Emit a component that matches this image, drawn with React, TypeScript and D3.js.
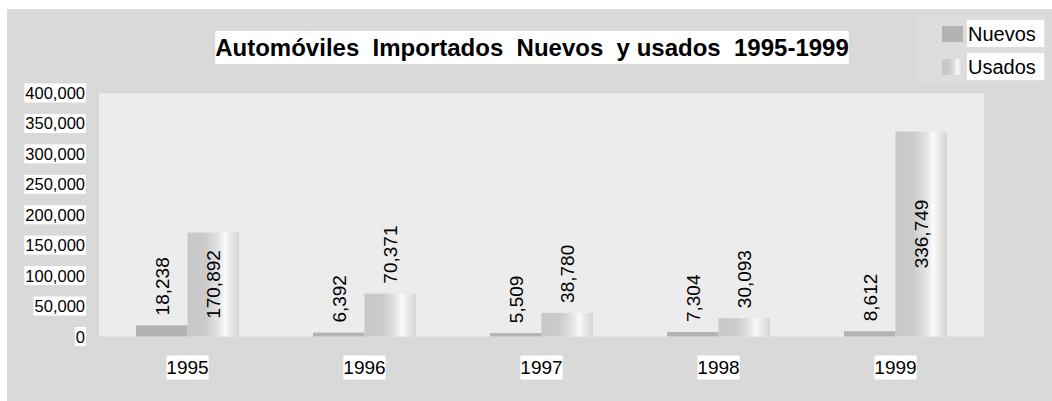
import React, { useRef, useEffect } from "react";
import * as d3 from "d3";

// chart data
const years = ["1995", "1996", "1997", "1998", "1999"];
const nuevos = [18238, 6392, 5509, 7304, 8612];
const usados = [170892, 70371, 38780, 30093, 336749];
const seriesNames = ["Nuevos", "Usados"];
const yTicks = [0, 50000, 100000, 150000, 200000, 250000, 300000, 350000, 400000];
const title = "Automóviles  Importados  Nuevos  y usados  1995-1999";

const W = 1052;
const H = 401;
const plot = { left: 99, right: 984, top: 93, bottom: 336.5 };
const font = "'Liberation Sans', Arial, sans-serif";
const fmt = d3.format(",");

const App = () => {
  const svgRef = useRef<SVGSVGElement>(null);

  const x0 = d3
    .scaleBand()
    .domain(years)
    .range([plot.left, plot.right])
    .paddingInner(0.418)
    .paddingOuter(0.209);
  const x1 = d3.scaleBand().domain(seriesNames).range([0, x0.bandwidth()]).padding(0);
  const y = d3.scaleLinear().domain([0, 400000]).range([plot.bottom, plot.top]);

  // white boxes behind the boxed texts
  useEffect(() => {
    const svg = d3.select(svgRef.current);
    svg.selectAll(".box").remove();
    svg.selectAll<SVGTextElement, unknown>("text.boxed").each(function () {
      const b = this.getBBox();
      const px = +(this.getAttribute("data-px") || 1);
      const py = +(this.getAttribute("data-py") || 1);
      d3.select(this.parentNode as SVGGElement)
        .insert("rect", () => this)
        .attr("class", "box")
        .attr("x", b.x - px)
        .attr("y", b.y - py)
        .attr("width", b.width + px * 2)
        .attr("height", b.height + py * 2)
        .attr("fill", "#ffffff");
    });
  }, []);

  const data = years.map((yr, i) => ({ year: yr, vals: [nuevos[i], usados[i]] }));

  return (
    <svg
      ref={svgRef}
      width={W}
      height={H}
      style={{ position: "absolute", left: 0, top: 0, background: "#ffffff" }}
      fontFamily={font}
    >
      <defs>
        <linearGradient id="usadosGrad" x1="0" x2="1" y1="0" y2="0">
          <stop offset="0" stopColor="#c8c8c8" />
          <stop offset="0.35" stopColor="#cbcbcb" />
          <stop offset="0.6" stopColor="#e4e4e4" />
          <stop offset="0.73" stopColor="#fbfbfb" />
          <stop offset="0.84" stopColor="#e9e9e9" />
          <stop offset="1" stopColor="#d5d5d5" />
        </linearGradient>
      </defs>

      {/* backgrounds */}
      <rect x={7} y={9} width={W - 7} height={H - 9} fill="#d9d9d9" />
      <rect x={916} y={16} width={130} height={66} fill="#dddddd" />
      <rect
        x={plot.left}
        y={plot.top}
        width={plot.right - plot.left}
        height={plot.bottom - plot.top}
        fill="#ececec"
      />

      {/* title */}
      <g>
        <text
          className="boxed"
          data-px={0}
          data-py={3}
          x={532}
          y={56}
          textAnchor="middle"
          fontSize={24}
          fontWeight="bold"
          fill="#000"
          style={{ whiteSpace: "pre" }}
        >
          {title}
        </text>
      </g>

      {/* y axis labels */}
      <g>
        {yTicks.map((t) => (
          <text
            key={t}
            className="boxed"
            data-px={1}
            data-py={0.5}
            x={85}
            y={y(t) + 6}
            textAnchor="end"
            fontSize={16.5}
            fill="#000"
          >
            {fmt(t)}
          </text>
        ))}
      </g>

      {/* bars */}
      {data.map((d) => (
        <g key={d.year} transform={`translate(${x0(d.year)},0)`}>
          {d.vals.map((v, j) => {
            const bx = x1(seriesNames[j])!;
            const bw = x1.bandwidth();
            const top = y(v);
            const cx = bx + bw / 2;
            const label = fmt(v);
            const len = label.length * 0.53 * 19;
            const inside = plot.bottom - top > len + 20;
            return (
              <g key={j}>
                <rect
                  x={bx}
                  y={top}
                  width={bw}
                  height={plot.bottom - top}
                  fill={j === 0 ? "#b3b3b3" : "url(#usadosGrad)"}
                />
                <text
                  transform={`translate(${cx},${inside ? (top + plot.bottom) / 2 : top - 10}) rotate(-90)`}
                  textAnchor={inside ? "middle" : "start"}
                  dy="0.36em"
                  fontSize={19}
                  fill="#000"
                >
                  {label}
                </text>
              </g>
            );
          })}
        </g>
      ))}

      {/* category labels */}
      <g>
        {years.map((yr) => (
          <text
            key={yr}
            className="boxed"
            data-px={0}
            data-py={1.5}
            x={x0(yr)! + x0.bandwidth() / 2}
            y={374}
            textAnchor="middle"
            fontSize={19}
            fill="#000"
          >
            {yr}
          </text>
        ))}
      </g>

      {/* legend */}
      <g>
        {seriesNames.map((s, i) => (
          <g key={s} transform={`translate(942,${26 + i * 33})`}>
            <rect width={21} height={16} fill={i === 0 ? "#b3b3b3" : "url(#usadosGrad)"} />
            <rect x={25} y={-6} width={77} height={27} fill="#ffffff" />
            <text x={26} y={14.5} fontSize={20} fill="#000">
              {s}
            </text>
          </g>
        ))}
      </g>
    </svg>
  );
};

export default App;
